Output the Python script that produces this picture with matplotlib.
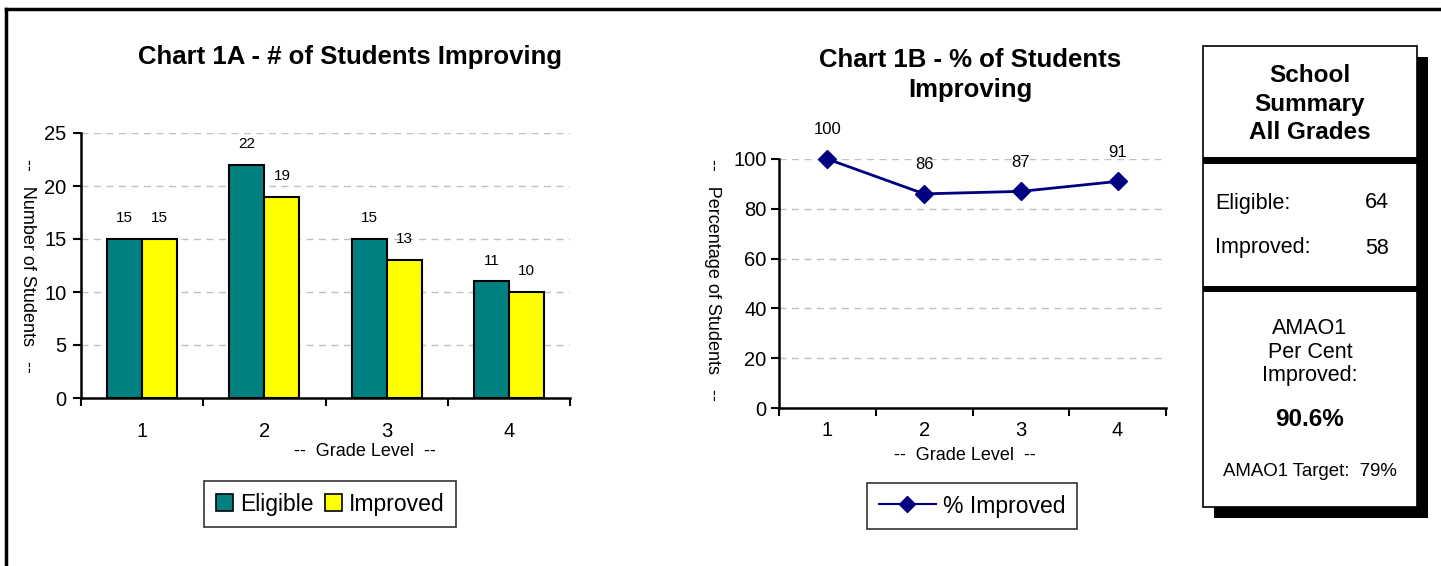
import matplotlib
matplotlib.use('Agg')
import matplotlib.pyplot as plt
from matplotlib.patches import Rectangle
from matplotlib.lines import Line2D

plt.rcParams['font.family'] = ['Liberation Sans', 'DejaVu Sans']

# data
grades = [1, 2, 3, 4]
grade_labels = ['1', '2', '3', '4']
eligible = [15, 22, 15, 11]
improved = [15, 19, 13, 10]
pct_improved = [100, 86, 87, 91]

total_eligible = 64
total_improved = 58
pct_total = '90.6%'
target = '79%'

W, H = 1441, 566
fig = plt.figure(figsize=(W / 100, H / 100), dpi=100)


def px(l, t, r, b):
    return [l / W, 1 - b / H, (r - l) / W, (b - t) / H]


def fx(x):
    return x / W


def fy(y):
    return 1 - y / H


grid_kw = dict(color='#c0c0c0', linestyle=(0, (5, 4)), linewidth=1)

# ---- Chart 1A ----
ax1 = fig.add_axes(px(81, 133, 570, 398))
bw = 0.287
for i, g in enumerate(grades):
    ax1.bar(g - bw / 2, eligible[i], bw, color='#008080', edgecolor='black', linewidth=1.5, zorder=3)
    ax1.bar(g + bw / 2, improved[i], bw, color='#ffff00', edgecolor='black', linewidth=1.5, zorder=3)
    ax1.annotate(str(eligible[i]), (g - bw / 2, eligible[i]), xytext=(0, 15), textcoords='offset points',
                 ha='center', va='center', fontsize=11)
    ax1.annotate(str(improved[i]), (g + bw / 2, improved[i]), xytext=(0, 15), textcoords='offset points',
                 ha='center', va='center', fontsize=11)
ax1.set_xlim(0.5, 4.5)
ax1.set_ylim(0, 25)
ax1.set_yticks([0, 5, 10, 15, 20, 25])
ax1.set_xticks([0.5, 1.5, 2.5, 3.5, 4.5])
ax1.set_xticklabels([])
ax1.set_xticks(grades, minor=True)
ax1.set_xticklabels(grade_labels, minor=True)
ax1.tick_params(axis='x', which='minor', length=0, pad=17, labelsize=14.5)
ax1.tick_params(axis='x', which='major', length=6, width=1.5, direction='out')
ax1.tick_params(axis='y', length=6, width=1.5, labelsize=14.5, pad=4.5)
for y in [5, 10, 15, 20, 25]:
    ax1.axhline(y, zorder=0, **grid_kw)
for s in ['top', 'right']:
    ax1.spines[s].set_visible(False)
for s in ['left', 'bottom']:
    ax1.spines[s].set_linewidth(1.8)

fig.text(fx(350), fy(57), 'Chart 1A - # of Students Improving', ha='center', va='center',
         fontsize=18.5, fontweight='bold')
fig.text(fx(27), fy(266), '--   Number of Students   --', ha='center', va='center',
         rotation=-90, fontsize=13)
fig.text(fx(365), fy(452), '--  Grade Level  --', ha='center', va='center', fontsize=13)

h1 = [Rectangle((0, 0), 1, 1, facecolor='#008080', edgecolor='black', linewidth=1.2),
      Rectangle((0, 0), 1, 1, facecolor='#ffff00', edgecolor='black', linewidth=1.2)]
leg1 = fig.legend(h1, ['Eligible', 'Improved'], loc='center', bbox_to_anchor=(fx(330), fy(504)),
                  ncol=2, fontsize=16.5, frameon=True, fancybox=False, edgecolor='black',
                  handlelength=0.75, handleheight=0.75, handletextpad=0.3, columnspacing=0.5,
                  borderpad=0.5, borderaxespad=0)
leg1.get_frame().set_linewidth(1.2)

# ---- Chart 1B ----
ax2 = fig.add_axes(px(779, 159, 1166, 408))
ax2.plot(grades, pct_improved, color='#000080', linewidth=2, marker='D', markersize=9,
         zorder=3, clip_on=False)
for g, v in zip(grades, pct_improved):
    ax2.annotate(str(v), (g, v), xytext=(0, 21), textcoords='offset points',
                 ha='center', va='center', fontsize=12)
ax2.set_xlim(0.5, 4.5)
ax2.set_ylim(0, 100)
ax2.set_yticks([0, 20, 40, 60, 80, 100])
ax2.set_xticks([0.5, 1.5, 2.5, 3.5, 4.5])
ax2.set_xticklabels([])
ax2.set_xticks(grades, minor=True)
ax2.set_xticklabels(grade_labels, minor=True)
ax2.tick_params(axis='x', which='minor', length=0, pad=9, labelsize=14.5)
ax2.tick_params(axis='x', which='major', length=6, width=1.5, direction='out')
ax2.tick_params(axis='y', length=6, width=1.5, labelsize=14.5, pad=3)
for y in [20, 40, 60, 80, 100]:
    ax2.axhline(y, zorder=0, **grid_kw)
for s in ['top', 'right']:
    ax2.spines[s].set_visible(False)
for s in ['left', 'bottom']:
    ax2.spines[s].set_linewidth(1.8)

fig.text(fx(970), fy(75), 'Chart 1B - % of Students\nImproving', ha='center', va='center',
         fontsize=18.5, fontweight='bold', linespacing=1.35)
fig.text(fx(712), fy(280), '--   Percentage of Students   --', ha='center', va='center',
         rotation=-90, fontsize=13)
fig.text(fx(965), fy(456), '--  Grade Level  --', ha='center', va='center', fontsize=13)

h2 = [Line2D([], [], color='#000080', linewidth=1.5, marker='D', markersize=8)]
leg2 = fig.legend(h2, ['% Improved'], loc='center', bbox_to_anchor=(fx(972), fy(506)),
                  fontsize=16.5, frameon=True, fancybox=False, edgecolor='black',
                  handlelength=2.5, handletextpad=0.3, borderpad=0.5, borderaxespad=0)
leg2.get_frame().set_linewidth(1.2)

# ---- summary box ----
bl, bt, br, bb = 1203, 46, 1417, 507
sh = 11
fig.patches.append(Rectangle((fx(bl + sh), fy(bb + sh)), (br - bl) / W, (bb - bt) / H,
                             transform=fig.transFigure, facecolor='black', edgecolor='none', zorder=1))
fig.patches.append(Rectangle((fx(bl), fy(bb)), (br - bl) / W, (bb - bt) / H,
                             transform=fig.transFigure, facecolor='white', edgecolor='black',
                             linewidth=1.2, zorder=2))
for t, b in [(157, 164), (286, 292)]:
    fig.patches.append(Rectangle((fx(bl), fy(b)), (br - bl) / W, (b - t) / H,
                                 transform=fig.transFigure, facecolor='black', edgecolor='none', zorder=3))

cx = (bl + br) / 2
fig.text(fx(cx), fy(104), 'School\nSummary\nAll Grades', ha='center', va='center',
         fontsize=17.5, fontweight='bold', linespacing=1.3, zorder=4)
fig.text(fx(1215), fy(203), 'Eligible:', ha='left', va='center', fontsize=15.5, zorder=4)
fig.text(fx(1389), fy(203), str(total_eligible), ha='right', va='center', fontsize=15.5, zorder=4)
fig.text(fx(1215), fy(248), 'Improved:', ha='left', va='center', fontsize=15.5, zorder=4)
fig.text(fx(1389), fy(248), str(total_improved), ha='right', va='center', fontsize=15.5, zorder=4)
fig.text(fx(cx), fy(352), 'AMAO1\nPer Cent\nImproved:', ha='center', va='center',
         fontsize=15.5, linespacing=1.15, zorder=4)
fig.text(fx(cx), fy(420), pct_total, ha='center', va='center', fontsize=17.5,
         fontweight='bold', zorder=4)
fig.text(fx(cx), fy(472), 'AMAO1 Target:  ' + target, ha='center', va='center',
         fontsize=13.4, zorder=4)

# outer frame (top and left edges)
fig.add_artist(Line2D([fx(6), 1], [fy(9), fy(9)], color='black', linewidth=2.5, transform=fig.transFigure))
fig.add_artist(Line2D([fx(6), fx(6)], [0, fy(9)], color='black', linewidth=2.5, transform=fig.transFigure))

fig.savefig('out.png', dpi=100, facecolor='white')
